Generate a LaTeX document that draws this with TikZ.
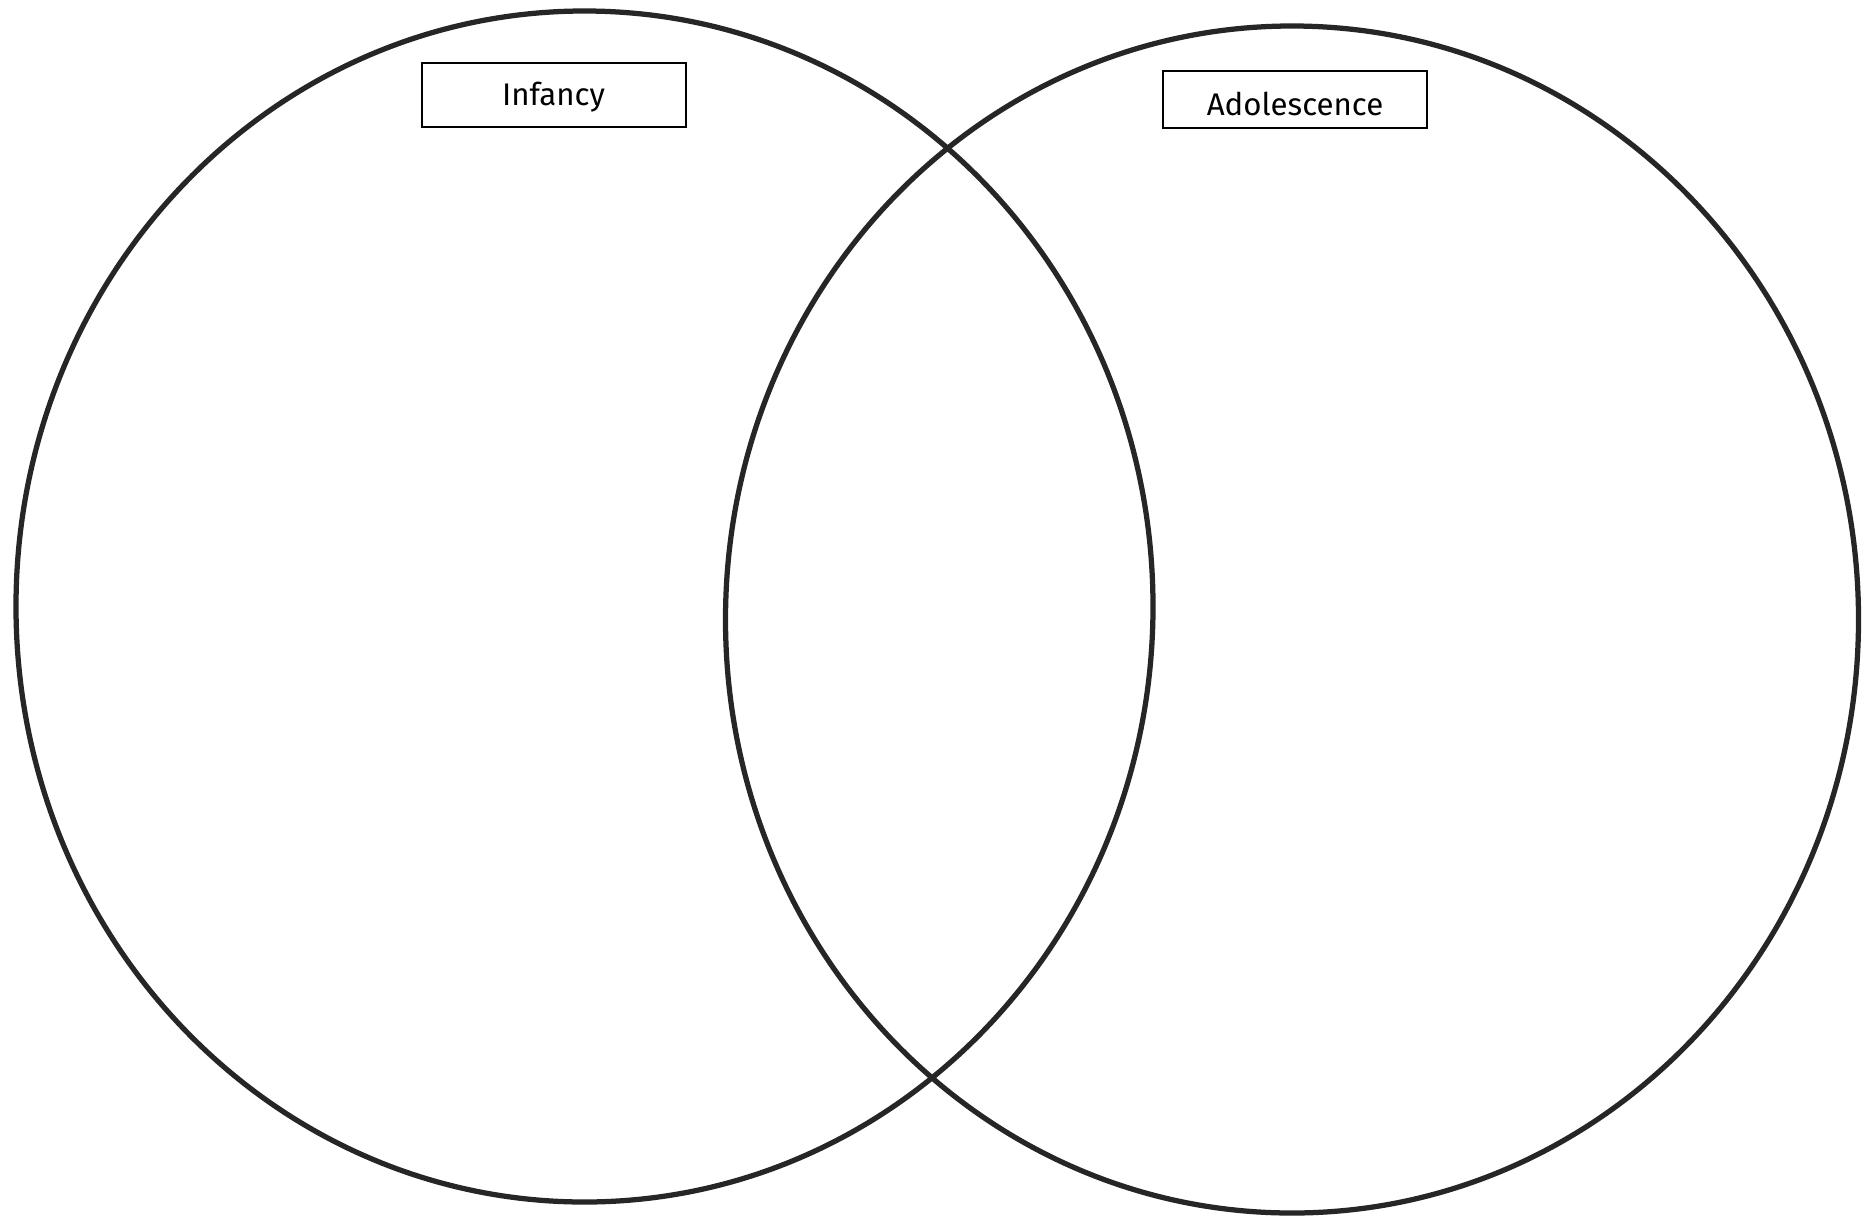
\documentclass[tikz,border=0pt]{standalone}
\usepackage{fontspec}
\setmainfont{Fira Sans}
\begin{document}
\begin{tikzpicture}[x=0.4pt,y=-0.4pt,
  ring/.style={draw=black!85,line width=2.1pt},
  label box/.style={draw=black,line width=0.8pt,minimum width=105.6pt,minimum height=25.6pt,inner sep=0pt,font=\fontsize{12.5}{14}\selectfont}]
\useasboundingbox[fill=white] (0,0) rectangle (1872,1220);
\draw[ring] (584.5,606.5) ellipse [x radius=568.5*0.4pt, y radius=595.5*0.4pt];
\draw[ring] (1292,619.5) ellipse [x radius=566.5*0.4pt, y radius=593.5*0.4pt];
\node[label box,text height=11pt,text depth=2pt] (infancy) at (553.5,94.5) {Infancy};
\node[label box,minimum height=22.8pt,text height=13.5pt,text depth=0.7pt] (adol) at (1295,99.5) {Adolescence};
\end{tikzpicture}
\end{document}
